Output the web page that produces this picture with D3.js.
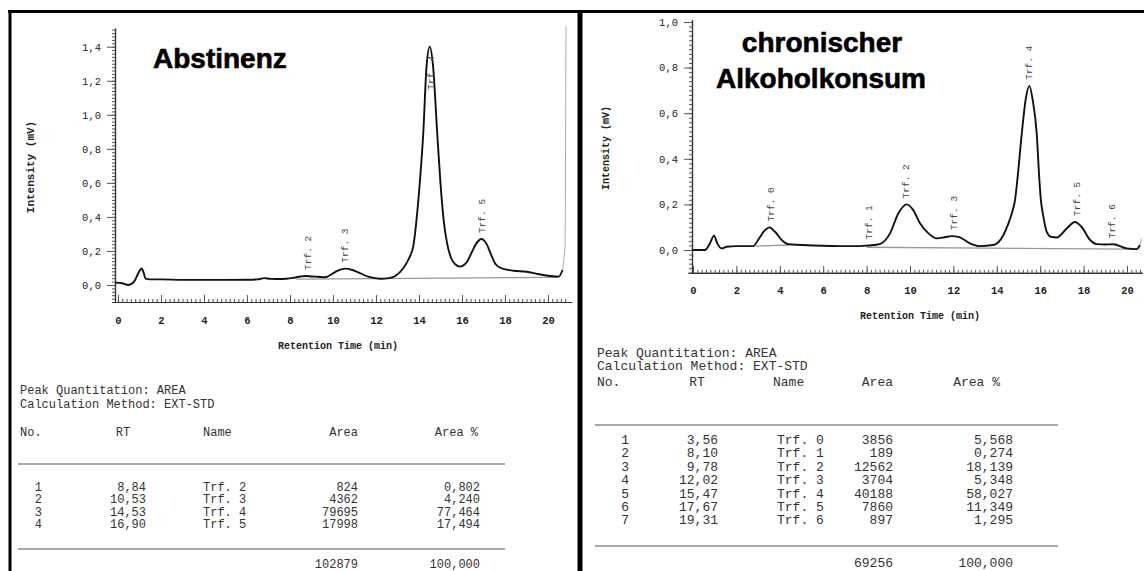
<!DOCTYPE html>
<html>
<head>
<meta charset="utf-8">
<script src="https://cdn.jsdelivr.net/npm/d3@7"></script>
<style>
  body { margin: 0; background: #fff; }
  svg { display: block; }
</style>
</head>
<body>
<svg id="chart" width="1144" height="571"></svg>
<script>
// values: [time (min), intensity (mV)]
var abstTrace = [[-0.14,0.014],[0.2,0.01],[0.47,0.0],[0.75,0.02],[0.95,0.07],[1.1,0.097],[1.2,0.07],[1.28,0.037],
  [1.5,0.033],[2.0,0.033],[3.0,0.03],[4.0,0.03],[5.0,0.03],[6.0,0.031],[6.5,0.033],[6.8,0.04],[7.1,0.036],
  [7.6,0.035],[8.15,0.042],[8.5,0.05],[8.75,0.053],[9.0,0.05],[9.3,0.048],[9.63,0.045],[9.9,0.06],[10.15,0.08],
  [10.56,0.096],[10.9,0.088],[11.15,0.076],[11.64,0.049],[12.2,0.037],[12.6,0.04],[12.9,0.053],[13.27,0.098],
  [13.55,0.16],[13.74,0.23],[13.9,0.4],[14.05,0.62],[14.2,0.89],[14.35,1.28],[14.5,1.40],[14.66,1.28],[14.85,0.89],
  [15.0,0.6],[15.15,0.38],[15.3,0.25],[15.5,0.157],[15.7,0.12],[15.9,0.108],[16.2,0.13],[16.45,0.19],[16.65,0.24],
  [16.9,0.27],[17.15,0.24],[17.35,0.18],[17.55,0.125],[17.85,0.098],[18.4,0.084],[19.0,0.078],[19.6,0.063],
  [20.1,0.053],[20.5,0.049],[20.68,0.088]];
var abstRamp = [[20.68,0.088],[20.8,0.225],[20.84,1.52]];
var abstBase = [[8.3,0.035],[15.4,0.04],[20.5,0.045]];

var chronTrace = [[-0.06,0.0],[0.55,0.0],[0.78,0.029],[0.97,0.063],[1.12,0.029],[1.32,0.007],[1.55,0.014],[2.0,0.017],
  [2.78,0.017],[3.0,0.044],[3.32,0.087],[3.52,0.099],[3.78,0.08],[4.09,0.044],[4.4,0.025],[5.55,0.02],[7.1,0.017],
  [7.7,0.017],[8.08,0.02],[8.6,0.026],[9.08,0.073],[9.46,0.16],[9.85,0.2],[10.15,0.175],[10.46,0.117],[10.85,0.073],
  [11.23,0.051],[11.6,0.056],[11.92,0.061],[12.3,0.055],[12.76,0.029],[13.2,0.017],[13.84,0.022],[14.3,0.065],
  [14.55,0.12],[14.69,0.16],[14.84,0.22],[14.95,0.31],[15.15,0.51],[15.33,0.66],[15.5,0.72],[15.65,0.66],[15.84,0.51],
  [15.96,0.31],[16.03,0.22],[16.14,0.15],[16.3,0.08],[16.5,0.058],[16.76,0.055],[17.22,0.094],[17.6,0.123],
  [17.9,0.102],[18.3,0.044],[18.6,0.026],[19.0,0.024],[19.37,0.025],[19.98,0.007],[20.44,0.004],[20.6,0.022]];
var chronRamp = [[20.6,0.022],[20.66,0.05]];
var chronBase = [[8.0,0.012],[20.3,0.004]];
var chronBase0 = [[2.9,0.017],[4.4,0.022]];

// peak tables
var abstNo = [1, 2, 3, 4];
var abstRT = [8.84, 10.53, 14.53, 16.90];
var abstNames = ["Trf. 2", "Trf. 3", "Trf. 4", "Trf. 5"];
var abstArea = [824, 4362, 79695, 17998];
var abstPct = [0.802, 4.240, 77.464, 17.494];
var abstTotal = [102879, 100];

var chronNo = [1, 2, 3, 4, 5, 6, 7];
var chronRT = [3.56, 8.10, 9.78, 12.02, 15.47, 17.67, 19.31];
var chronNames = ["Trf. 0", "Trf. 1", "Trf. 2", "Trf. 3", "Trf. 4", "Trf. 5", "Trf. 6"];
var chronArea = [3856, 189, 12562, 3704, 40188, 7860, 897];
var chronPct = [5.568, 0.274, 18.139, 5.348, 58.027, 11.349, 1.295];
var chronTotal = [69256, 100];

// tick labels
var xTickValues = [0, 2, 4, 6, 8, 10, 12, 14, 16, 18, 20];
var yTicksAbst = [0, 0.2, 0.4, 0.6, 0.8, 1.0, 1.2, 1.4];
var yTicksChron = [0, 0.2, 0.4, 0.6, 0.8, 1.0];

var de = d3.formatLocale({decimal: ",", thousands: ".", grouping: [3], currency: ["", " €"]});
var f1 = de.format(".1f"), f2 = de.format(".2f"), f3 = de.format(".3f");

var mono = "'Liberation Mono', 'DejaVu Sans Mono', monospace";
var svg = d3.select("#chart");

// scan frame
svg.append("line").attr("x1", 8).attr("x2", 1144).attr("y1", 11.5).attr("y2", 11.5)
  .attr("stroke", "#000").attr("stroke-width", 3);
svg.append("line").attr("x1", 10).attr("x2", 10).attr("y1", 10).attr("y2", 571)
  .attr("stroke", "#000").attr("stroke-width", 3);
svg.append("line").attr("x1", 580).attr("x2", 580).attr("y1", 10).attr("y2", 571)
  .attr("stroke", "#000").attr("stroke-width", 5);

function drawChart(p) {
  var x = d3.scaleLinear().domain(p.xDomain).range(p.xRange);
  var y = d3.scaleLinear().domain(p.yDomain).range(p.yRange);
  var g = svg.append("g");
  var axisY = p.yRange[0];

  // x axis: minor then major ticks (drawn upward)
  g.append("g").attr("transform", "translate(0," + axisY + ")")
    .call(d3.axisBottom(x).tickValues(d3.range(0, 20.9, 0.2)).tickSize(-3).tickSizeOuter(0).tickFormat(""));
  var xa = g.append("g").attr("transform", "translate(0," + axisY + ")")
    .call(d3.axisBottom(x).tickValues(xTickValues).tickSize(-7).tickSizeOuter(0).tickPadding(p.xPad).tickFormat(d3.format("d")));

  // y axis
  g.append("g").attr("transform", "translate(" + p.yAxisX + ",0)")
    .call(d3.axisLeft(y).tickValues(d3.range(-0.1, p.yDomain[1], 0.02)).tickSize(3).tickSizeOuter(0).tickFormat(""));
  var ya = g.append("g").attr("transform", "translate(" + p.yAxisX + ",0)")
    .call(d3.axisLeft(y).tickValues(p.yTicks).tickSize(8).tickSizeOuter(0).tickPadding(6).tickFormat(f1));

  g.selectAll(".domain").attr("stroke", "#333").attr("stroke-width", 1.2);
  g.selectAll(".tick line").attr("stroke", "#555");
  xa.selectAll(".tick text").attr("font-family", mono).attr("font-size", "10.5px")
    .attr("font-weight", "bold").attr("fill", "#222");
  ya.selectAll(".tick text").attr("font-family", mono).attr("font-size", "10.5px").attr("fill", "#222");

  var line = d3.line().x(function(d) { return x(d[0]); }).y(function(d) { return y(d[1]); });

  p.bases.forEach(function(b) {
    g.append("path").datum(b).attr("d", line).attr("fill", "none")
      .attr("stroke", "#999").attr("stroke-width", 1.3);
  });
  g.append("path").datum(p.trace).attr("d", line.curve(d3.curveMonotoneX))
    .attr("fill", "none").attr("stroke", "#111").attr("stroke-width", 1.9).attr("stroke-linejoin", "round");
  g.append("path").datum(p.ramp).attr("d", d3.line().x(function(d) { return x(d[0]); }).y(function(d) { return y(d[1]); }))
    .attr("fill", "none").attr("stroke", "#aaa").attr("stroke-width", 1);

  // peak names, rotated, just above each peak
  p.names.forEach(function(name, i) {
    var rt = p.rt[i];
    var h = d3.max(p.trace.filter(function(d) { return Math.abs(d[0] - rt) < 0.35; }), function(d) { return d[1]; });
    var yb = y(h) - 6;
    if (yb - 37 < p.yRange[1]) yb = y(h) + 43;
    g.append("text").text(name)
      .attr("transform", "translate(" + x(rt) + "," + yb + ") rotate(-90)")
      .attr("dy", "0.35em")
      .attr("font-family", mono).attr("font-size", "9.5px").attr("fill", "#444");
  });

  // axis titles
  g.append("text").text("Retention Time (min)")
    .attr("x", p.xTitle[0]).attr("y", p.xTitle[1]).attr("text-anchor", "middle")
    .attr("font-family", mono).attr("font-weight", "bold").attr("font-size", "10px").attr("fill", "#222");
  g.append("text").text("Intensity  (mV)")
    .attr("transform", "translate(" + p.yTitle[0] + "," + p.yTitle[1] + ") rotate(-90)")
    .attr("text-anchor", "middle").attr("dy", "0.35em")
    .attr("font-family", mono).attr("font-weight", "bold").attr("font-size", p.yTitleSize).attr("fill", "#222");
}

drawChart({
  xDomain: [-0.25, 21.1], xRange: [112.6, 571.6],
  yDomain: [-0.1, 1.51], yRange: [302, 28],
  yAxisX: 115, xPad: 15, yTicks: yTicksAbst,
  trace: abstTrace, ramp: abstRamp, bases: [abstBase],
  names: abstNames, rt: abstRT,
  xTitle: [338, 349], yTitle: [30, 167], yTitleSize: "11px"
});

drawChart({
  xDomain: [-0.23, 20.7], xRange: [688, 1142.2],
  yDomain: [-0.1, 1.01], yRange: [272.8, 19.7],
  yAxisX: 692, xPad: 14, yTicks: yTicksChron,
  trace: chronTrace, ramp: chronRamp, bases: [chronBase0, chronBase],
  names: chronNames, rt: chronRT,
  xTitle: [920, 319], yTitle: [605, 148], yTitleSize: "10px"
});

// big titles
svg.append("text").text("Abstinenz").attr("x", 153).attr("y", 68)
  .attr("font-family", "'Liberation Sans', Arial, sans-serif").attr("font-weight", "bold")
  .attr("font-size", "28px").attr("fill", "#000").attr("stroke", "#000").attr("stroke-width", 0.6);
svg.append("text").text("chronischer").attr("x", 822).attr("y", 52).attr("text-anchor", "middle")
  .attr("font-family", "'Liberation Sans', Arial, sans-serif").attr("font-weight", "bold")
  .attr("font-size", "28px").attr("fill", "#000").attr("stroke", "#000").attr("stroke-width", 0.6);
svg.append("text").text("Alkoholkonsum").attr("x", 821).attr("y", 88).attr("text-anchor", "middle")
  .attr("font-family", "'Liberation Sans', Arial, sans-serif").attr("font-weight", "bold")
  .attr("font-size", "28px").attr("fill", "#000").attr("stroke", "#000").attr("stroke-width", 0.6);

// peak tables
function drawTable(t) {
  var g = svg.append("g").attr("font-family", mono).attr("font-size", t.size).attr("fill", "#333");
  g.append("text").text("Peak Quantitation: AREA").attr("x", t.left).attr("y", t.lines[0]);
  g.append("text").text("Calculation Method: EXT-STD").attr("x", t.left).attr("y", t.lines[1]);

  var head = g.append("g").attr("transform", "translate(0," + t.lines[2] + ")");
  head.append("text").text("No.").attr("x", t.left);
  head.append("text").text("RT").attr("x", t.col.rtHead).attr("text-anchor", "middle");
  head.append("text").text("Name").attr("x", t.col.nameHead);
  head.append("text").text("Area").attr("x", t.col.area).attr("text-anchor", "end");
  head.append("text").text("Area %").attr("x", t.col.pctHead).attr("text-anchor", "end");

  g.append("line").attr("x1", t.left - 2).attr("x2", t.right).attr("y1", t.lines[3]).attr("y2", t.lines[3])
    .attr("stroke", "#555").attr("stroke-width", 1.2);

  var row = d3.scaleLinear().domain([0, 1]).range([t.lines[4], t.lines[4] + t.step]);
  var rows = g.selectAll("g.row").data(t.no).join("g").attr("class", "row")
    .attr("transform", function(d, i) { return "translate(0," + row(i) + ")"; });
  rows.append("text").text(function(d) { return d; }).attr("x", t.col.no).attr("text-anchor", "end");
  rows.append("text").text(function(d, i) { return f2(t.rt[i]); }).attr("x", t.col.rt).attr("text-anchor", "end");
  rows.append("text").text(function(d, i) { return t.names[i]; }).attr("x", t.col.name);
  rows.append("text").text(function(d, i) { return t.area[i]; }).attr("x", t.col.area).attr("text-anchor", "end");
  rows.append("text").text(function(d, i) { return f3(t.pct[i]); }).attr("x", t.col.pct).attr("text-anchor", "end");

  g.append("line").attr("x1", t.left - 2).attr("x2", t.right).attr("y1", t.lines[5]).attr("y2", t.lines[5])
    .attr("stroke", "#555").attr("stroke-width", 1.2);
  g.append("text").text(t.total[0]).attr("x", t.col.area).attr("y", t.lines[6]).attr("text-anchor", "end");
  g.append("text").text(f3(t.total[1])).attr("x", t.col.pct).attr("y", t.lines[6]).attr("text-anchor", "end");
}

drawTable({
  left: 20, right: 505, size: "12px", step: 12.3,
  lines: [394, 408, 436, 464, 491, 549, 568],
  col: {no: 42, rtHead: 123, rt: 146, nameHead: 203, name: 203, area: 358, pctHead: 478, pct: 480},
  no: abstNo, rt: abstRT, names: abstNames, area: abstArea, pct: abstPct, total: abstTotal
});

drawTable({
  left: 597, right: 1058, size: "13px", step: 13.4,
  lines: [357, 370, 386, 425, 444, 546, 567],
  col: {no: 629, rtHead: 697, rt: 718, nameHead: 773, name: 777, area: 893, pctHead: 1000, pct: 1013},
  no: chronNo, rt: chronRT, names: chronNames, area: chronArea, pct: chronPct, total: chronTotal
});
</script>
</body>
</html>
